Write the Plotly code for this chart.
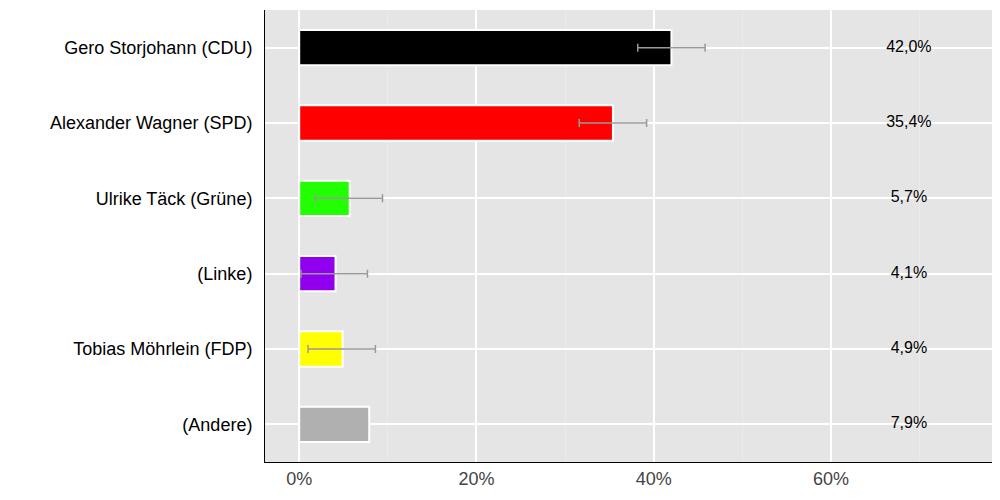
import plotly.graph_objects as go

candidates = ["Gero Storjohann (CDU)", "Alexander Wagner (SPD)", "Ulrike Täck (Grüne)",
              "(Linke)", "Tobias Möhrlein (FDP)", "(Andere)"]
values = [42.0, 35.4, 5.7, 4.1, 4.9, 7.9]
err_low = [38.2, 31.6, 1.8, 0.2, 1.0, None]
err_high = [45.8, 39.2, 9.4, 7.7, 8.6, None]
colors = ["#000000", "#ff0000", "#22ff00", "#9000ee", "#ffff00", "#b0b0b0"]
labels = ["42,0%", "35,4%", "5,7%", "4,1%", "4,9%", "7,9%"]

n_err = 5
plus = [h - v for v, h in zip(values[:n_err], err_high[:n_err])]
minus = [v - l for v, l in zip(values[:n_err], err_low[:n_err])]

fig = go.Figure()
fig.add_trace(go.Bar(
    x=values, y=candidates, orientation="h",
    marker=dict(color=colors, line=dict(color="white", width=2)),
    width=0.47, hoverinfo="x+y"))
fig.add_trace(go.Scatter(
    x=values[:n_err], y=candidates[:n_err], mode="markers",
    marker=dict(size=1, opacity=0),
    error_x=dict(type="data", symmetric=False, array=plus, arrayminus=minus,
                 color="#999999", thickness=1.5, width=4),
    hoverinfo="skip"))
fig.add_trace(go.Scatter(
    x=[68.8] * len(values), y=candidates, mode="text", text=labels,
    textfont=dict(size=16, color="black", family="Liberation Sans, Arial"),
    hoverinfo="skip"))

fig.update_layout(
    width=1000, height=500, showlegend=False,
    margin=dict(l=257, r=14, t=2, b=46),
    plot_bgcolor="#e5e5e5", paper_bgcolor="white",
    font=dict(family="Liberation Sans, Arial", size=18, color="black"),
)
fig.update_xaxes(range=[-3.86, 78.4], tickvals=[0, 20, 40, 60],
                 ticktext=["0%", "20%", "40%", "60%"],
                 tickfont=dict(color="#444444", size=18),
                 gridcolor="white", gridwidth=1.5,
                 minor=dict(tickvals=[10, 30, 50, 70], gridcolor="#ebebeb", gridwidth=1, ticklen=0),
                 showline=True, linecolor="black", linewidth=1, zeroline=False,
                 ticks="", fixedrange=True)
fig.update_yaxes(categoryorder="array", categoryarray=candidates[::-1],
                 gridcolor="white", gridwidth=1.5,
                 showline=True, linecolor="black", linewidth=1,
                 ticks="", ticklabelstandoff=8, fixedrange=True)

fig.write_html("out.html")
